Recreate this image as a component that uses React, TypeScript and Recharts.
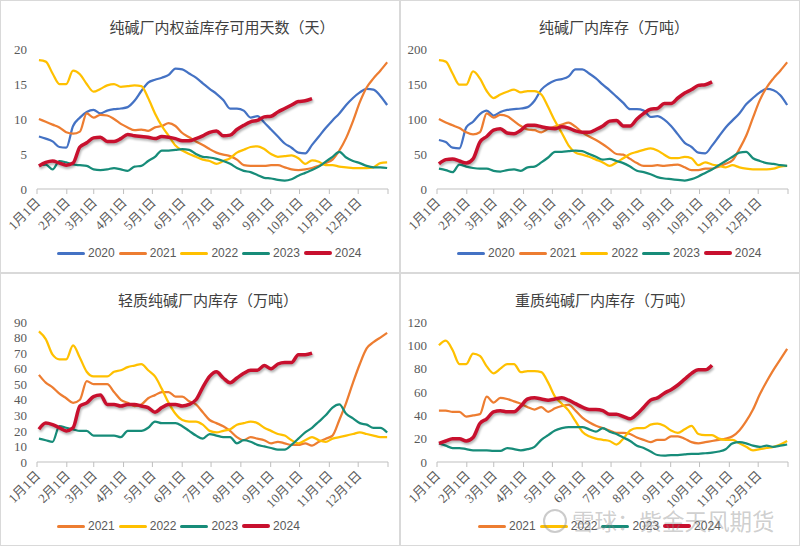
import { LineChart, Line, XAxis, YAxis } from 'recharts';

// x axis: day of year, ticks at the first of each month
const monthTicks = [0, 31, 59, 90, 120, 151, 181, 212, 243, 273, 304, 334, 365];
const monthLabels = ['1月1日', '2月1日', '3月1日', '4月1日', '5月1日', '6月1日', '7月1日', '8月1日', '9月1日', '10月1日', '11月1日', '12月1日', ''];

// 纯碱厂内权益库存可用天数（天）, weekly
const days2020 = [7.5, 7.2, 6.8, 6.0, 5.9, 9.0, 10.2, 11.0, 11.3, 10.8, 11.2, 11.4, 11.5, 11.7, 12.6, 14.0, 15.2, 15.6, 15.9, 16.3, 17.2, 17.1, 16.5, 15.9, 15.1, 14.3, 13.6, 12.7, 11.5, 11.5, 11.2, 10.2, 10.4, 9.5, 8.5, 7.5, 6.5, 5.9, 5.2, 5.1, 6.3, 7.5, 8.7, 9.8, 10.8, 12.0, 13.0, 13.8, 14.3, 14.2, 13.3, 12.0];
const days2021 = [10.0, 9.6, 9.2, 8.8, 8.1, 7.9, 8.2, 10.8, 10.2, 10.6, 10.5, 10.0, 9.3, 8.8, 8.4, 8.5, 8.3, 8.8, 9.0, 9.4, 9.0, 8.0, 7.4, 6.8, 6.3, 5.7, 5.2, 4.9, 4.7, 4.2, 3.4, 3.3, 3.3, 3.3, 3.4, 3.4, 3.1, 2.8, 2.7, 2.8, 3.0, 3.3, 3.7, 4.2, 5.5, 7.3, 9.7, 12.4, 14.5, 15.8, 16.9, 18.1];
const days2022 = [18.4, 18.2, 16.5, 15.0, 15.0, 16.9, 16.4, 15.0, 13.9, 14.3, 14.8, 15.0, 14.6, 14.7, 14.8, 14.7, 13.0, 10.8, 9.0, 7.6, 6.2, 5.5, 5.0, 4.6, 4.2, 4.0, 3.6, 4.0, 4.4, 5.2, 5.6, 6.0, 6.1, 5.7, 5.0, 4.6, 4.7, 4.8, 4.4, 3.6, 4.1, 3.9, 3.4, 3.4, 3.2, 3.1, 3.0, 3.0, 3.0, 3.1, 3.7, 3.8];
const days2023 = [3.4, 3.5, 2.8, 4.0, 3.8, 3.5, 3.4, 3.3, 2.8, 2.7, 2.8, 3.0, 2.8, 2.6, 3.2, 3.3, 4.0, 4.6, 5.5, 5.5, 5.6, 5.7, 5.6, 5.0, 4.6, 4.5, 4.3, 4.0, 3.6, 3.0, 2.6, 2.4, 2.0, 1.6, 1.5, 1.3, 1.2, 1.4, 1.9, 2.3, 2.7, 3.2, 3.9, 4.6, 5.3, 4.5, 4.0, 3.7, 3.3, 3.1, 3.1, 3.0];
const days2024 = [3.3, 3.8, 4.0, 3.7, 3.4, 3.7, 6.0, 6.6, 7.3, 7.4, 6.8, 6.8, 7.2, 7.8, 7.6, 7.5, 7.4, 7.2, 7.5, 7.4, 7.2, 6.9, 6.9, 7.2, 7.6, 8.1, 8.3, 7.6, 7.7, 8.5, 9.1, 9.6, 9.8, 10.3, 10.4, 11.0, 11.5, 12.0, 12.5, 12.6, 12.9];

// 纯碱厂内库存（万吨）
const stock2020 = [70, 67, 59, 58, 88, 96, 107, 112, 105, 110, 113, 114, 115, 117, 126, 142, 150, 155, 157, 161, 171, 171, 165, 158, 149, 141, 132, 123, 114, 114, 112, 103, 104, 99, 90, 78, 66, 60, 52, 51, 62, 75, 88, 98, 108, 121, 130, 138, 143, 141, 134, 120];
const stock2021 = [100, 95, 91, 87, 81, 78, 81, 108, 102, 106, 104, 97, 90, 85, 84, 81, 86, 89, 92, 95, 89, 81, 75, 70, 64, 57, 50, 49, 43, 37, 33, 33, 34, 33, 34, 35, 31, 27, 27, 29, 29, 32, 36, 41, 57, 76, 102, 127, 145, 158, 169, 181];
const stock2022 = [184, 182, 165, 149, 149, 168, 158, 140, 130, 135, 139, 142, 138, 140, 140, 135, 117, 97, 80, 62, 52, 49, 46, 42, 38, 33, 38, 44, 50, 53, 56, 58, 55, 49, 44, 44, 46, 44, 34, 38, 35, 33, 31, 34, 31, 29, 28, 28, 28, 29, 32, 33];
const stock2023 = [29, 27, 24, 35, 32, 30, 29, 29, 26, 25, 27, 28, 26, 31, 32, 38, 45, 53, 53, 54, 55, 54, 50, 46, 42, 43, 40, 37, 32, 26, 24, 21, 17, 15, 14, 13, 12, 14, 18, 23, 28, 34, 40, 46, 52, 53, 44, 40, 37, 36, 34, 33];
const stock2024 = [36, 42, 43, 40, 37, 43, 67, 75, 84, 86, 80, 79, 84, 91, 91, 89, 87, 86, 89, 87, 83, 81, 81, 85, 90, 97, 98, 90, 90, 100, 108, 114, 115, 122, 122, 130, 137, 142, 148, 149, 153];

// 轻质纯碱厂内库存（万吨）
const light2021 = [56, 51, 48, 44, 41, 38, 40, 52, 50, 50, 50, 45, 40, 38, 36, 37, 41, 43, 45, 45, 42, 42, 39, 37, 32, 27, 25, 23, 20, 16, 14, 16, 15, 14, 12, 13, 12, 11, 11, 12, 10.5, 13, 15, 17, 27, 38, 51, 63, 73, 77, 80, 83];
const light2022 = [84, 79, 69, 66, 66, 75, 67, 58, 55, 55, 55, 58, 59, 61, 62, 63, 59, 55, 47, 38, 31, 27, 26, 26, 24, 20, 19, 20, 21, 24, 25, 26, 25, 22, 20, 18, 17, 14, 12, 14, 16, 14, 13, 15, 16, 17, 18, 19, 18, 17, 16, 16];
const light2023 = [15, 14, 13, 23, 22, 21, 20, 20, 17, 17, 17, 17, 16, 20, 20, 20, 22, 26, 25, 25, 25, 23, 20, 17, 15, 18, 17, 16, 16, 12, 14, 13, 11, 10, 9, 8, 8, 11, 15, 19, 22, 26, 30, 35, 37, 31, 28, 25, 24, 22, 22, 19];
const light2024 = [21, 25, 24, 22, 20, 22, 36, 38, 42, 43, 37, 37, 36, 37, 37, 36, 35, 32, 35, 37, 37, 36, 37, 40, 48, 55, 58, 54, 51, 54, 57, 59, 59, 62, 60, 63, 64, 64, 69, 69, 70];

// 重质纯碱厂内库存（万吨）
const heavy2021 = [44, 44, 43, 43, 39, 40, 41, 56, 51, 55, 54, 52, 50, 47, 45, 47, 43, 46, 48, 49, 44, 38, 34, 31, 29, 27, 25, 25, 24, 21, 19, 17, 19, 19, 22, 22, 20, 17, 16, 17, 18, 19, 20, 22, 27, 35, 45, 58, 69, 79, 88, 97];
const heavy2022 = [100, 104, 96, 84, 84, 93, 91, 82, 76, 80, 84, 84, 77, 78, 78, 77, 68, 56, 50, 44, 35, 26, 22, 20, 19, 18, 15, 20, 27, 29, 29, 32, 33, 31, 27, 25, 28, 31, 24, 23, 23, 20, 19, 19, 16, 13, 10, 11, 12, 13, 15, 18];
const heavy2023 = [16, 14, 12, 12, 11, 10, 10, 10, 9.5, 9.5, 12, 11, 10, 11, 13, 19, 23, 27, 29, 30, 30, 30, 28, 26, 29, 26, 24, 21, 18, 14, 12, 9, 6, 5.5, 6, 6, 6.5, 7, 7, 7.5, 8, 9, 11, 16, 17, 16, 14, 13, 14, 13, 14, 15];
const heavy2024 = [16, 18, 20, 20, 18, 21, 33, 37, 43, 44, 43, 43, 48, 54, 55, 54, 53, 54, 55, 53, 50, 47, 45, 45, 44, 41, 41, 39, 37, 41, 47, 53, 55, 59, 62, 66, 71, 76, 79, 79, 83];

const yearColors: Record<string, string> = {
  '2020': '#4472C4',
  '2021': '#ED7D31',
  '2022': '#FFC000',
  '2023': '#178C79',
  '2024': '#C8102E',
};

type Series = { name: string; values: number[] };

type PanelProps = {
  title: string;
  titleX: number;
  series: Series[];
  yMax: number;
  yTicks: number[];
  legendX: number;
};

const serif = '"Liberation Serif", "Noto Sans CJK SC", serif';
const cjk = '"Noto Sans CJK SC", sans-serif';

function buildRows(series: Series[]) {
  const n = Math.max(...series.map((s) => s.values.length));
  const rows: Record<string, number | undefined>[] = [];
  for (let k = 0; k < n; k++) {
    const row: Record<string, number | undefined> = { day: 2 + k * 7.1 };
    series.forEach((s) => {
      row[s.name] = s.values[k];
    });
    rows.push(row);
  }
  return rows;
}

function MonthTick({ x, y, payload }: any) {
  const i = monthTicks.indexOf(payload.value);
  const label = monthLabels[i] ?? '';
  return (
    <g transform={`translate(${x + 1},${y + 4})`}>
      <text textAnchor="end" dy="0.35em" transform="rotate(-45)" fontSize={13} fill="#595959" fontFamily={serif}>
        {label}
      </text>
    </g>
  );
}

function Panel({ title, titleX, series, yMax, yTicks, legendX }: PanelProps) {
  const rows = buildRows(series);
  return (
    <div style={{ position: 'relative', width: 400, height: 273, background: '#fff' }}>
      <div
        style={{
          position: 'absolute',
          left: 0,
          right: 0,
          top: 16,
          textAlign: 'center',
          fontFamily: cjk,
          fontSize: 15,
          color: '#404040',
          transform: `translateX(${titleX - 200}px)`,
        }}
      >
        {title}
      </div>
      <LineChart width={400} height={273} data={rows} margin={{ top: 49, right: 12, left: 0, bottom: 0 }}>
        <XAxis
          type="number"
          dataKey="day"
          domain={[0, 365]}
          ticks={monthTicks}
          interval={0}
          height={84}
          stroke="#BFBFBF"
          tickSize={5}
          tickMargin={2}
          tick={<MonthTick />}
        />
        <YAxis
          domain={[0, yMax]}
          ticks={yTicks}
          interval={0}
          width={37}
          axisLine={false}
          tickLine={false}
          tickSize={0}
          tickMargin={10}
          tick={{ fill: '#595959', fontSize: 13, fontFamily: serif }}
        />
        {series.map((s) => (
          <Line
            key={s.name}
            type="monotone"
            dataKey={s.name}
            stroke={yearColors[s.name]}
            strokeWidth={s.name === '2024' ? 3.5 : 2.25}
            dot={false}
            isAnimationActive={false}
            style={s.name === '2024' ? { filter: 'drop-shadow(1px 2px 1px rgba(0,0,0,0.3))' } : undefined}
          />
        ))}
      </LineChart>
      <div
        style={{
          position: 'absolute',
          left: legendX,
          top: 246,
          display: 'flex',
          alignItems: 'center',
          fontFamily: '"Liberation Sans", sans-serif',
          fontSize: 12,
          color: '#595959',
        }}
      >
        {series.map((s) => (
          <div key={s.name} style={{ display: 'flex', alignItems: 'center', marginRight: 4 }}>
            <span
              style={{
                display: 'inline-block',
                width: 28,
                height: s.name === '2024' ? 4 : 3,
                borderRadius: 2,
                background: yearColors[s.name],
                marginRight: 3,
              }}
            />
            <span>{s.name}</span>
          </div>
        ))}
      </div>
      <div style={{ position: 'absolute', inset: 0, border: '1px solid #D9D9D9', pointerEvents: 'none' }} />
    </div>
  );
}

export default function App() {
  return (
    <div style={{ position: 'absolute', left: 0, top: 0, width: 800, height: 546, background: '#fff' }}>
      <div style={{ display: 'flex', flexWrap: 'wrap', width: 800 }}>
        <Panel
          title="纯碱厂内权益库存可用天数（天）"
          titleX={222}
          yMax={20}
          yTicks={[0, 5, 10, 15, 20]}
          legendX={57}
          series={[
            { name: '2020', values: days2020 },
            { name: '2021', values: days2021 },
            { name: '2022', values: days2022 },
            { name: '2023', values: days2023 },
            { name: '2024', values: days2024 },
          ]}
        />
        <Panel
          title="纯碱厂内库存（万吨）"
          titleX={214}
          yMax={200}
          yTicks={[0, 50, 100, 150, 200]}
          legendX={57}
          series={[
            { name: '2020', values: stock2020 },
            { name: '2021', values: stock2021 },
            { name: '2022', values: stock2022 },
            { name: '2023', values: stock2023 },
            { name: '2024', values: stock2024 },
          ]}
        />
        <Panel
          title="轻质纯碱厂内库存（万吨）"
          titleX={208}
          yMax={90}
          yTicks={[0, 10, 20, 30, 40, 50, 60, 70, 80, 90]}
          legendX={57}
          series={[
            { name: '2021', values: light2021 },
            { name: '2022', values: light2022 },
            { name: '2023', values: light2023 },
            { name: '2024', values: light2024 },
          ]}
        />
        <Panel
          title="重质纯碱厂内库存（万吨）"
          titleX={205}
          yMax={120}
          yTicks={[0, 20, 40, 60, 80, 100, 120]}
          legendX={78}
          series={[
            { name: '2021', values: heavy2021 },
            { name: '2022', values: heavy2022 },
            { name: '2023', values: heavy2023 },
            { name: '2024', values: heavy2024 },
          ]}
        />
      </div>
      <div
        style={{
          position: 'absolute',
          left: 543,
          top: 509,
          width: 20,
          height: 20,
          borderRadius: '50%',
          border: '2px solid rgba(140,140,140,0.45)',
        }}
      />
      <div
        style={{
          position: 'absolute',
          left: 572,
          top: 504,
          fontFamily: cjk,
          fontSize: 22.5,
          color: 'rgba(130,130,130,0.4)',
          whiteSpace: 'nowrap',
        }}
      >
        雪球：紫金天风期货
      </div>
    </div>
  );
}
